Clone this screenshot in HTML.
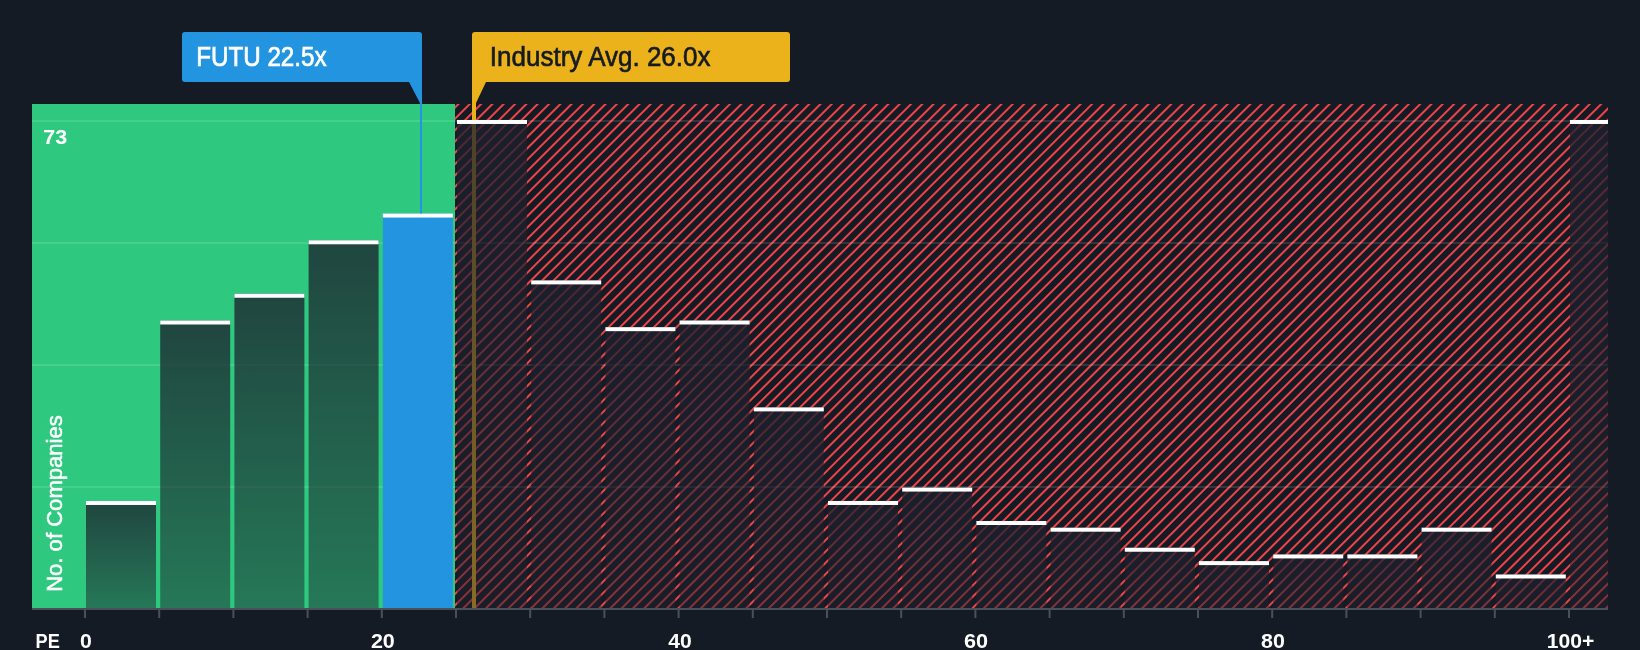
<!DOCTYPE html>
<html><head><meta charset="utf-8"><style>
html,body{margin:0;padding:0;background:#151b24;width:1640px;height:650px;overflow:hidden}
svg{display:block;will-change:transform}
text{font-family:"Liberation Sans",sans-serif}
</style></head><body>
<svg width="1640" height="650" viewBox="0 0 1640 650">
<defs>
<pattern id="hatch" patternUnits="userSpaceOnUse" width="8" height="8" patternTransform="rotate(45) translate(4.75,0)">
<rect x="0" y="0" width="8" height="8" fill="#151b24"/>
<rect x="0" y="0" width="2" height="8" fill="#ef4348"/>
</pattern>
<linearGradient id="barg" x1="0" y1="0" x2="0" y2="1">
<stop offset="0" stop-color="#1c202d" stop-opacity="0.78"/>
<stop offset="1" stop-color="#1c202d" stop-opacity="0.48"/>
</linearGradient>
</defs>
<rect x="0" y="0" width="1640" height="650" fill="#151b24"/>
<rect x="32" y="104" width="423" height="504" fill="#2ec97f"/>
<rect x="455" y="104" width="1153" height="504" fill="url(#hatch)"/>
<rect x="32" y="120" width="1576" height="2" fill="rgba(255,255,255,0.12)"/>
<rect x="32" y="242" width="1576" height="2" fill="rgba(255,255,255,0.12)"/>
<rect x="32" y="364" width="1576" height="2" fill="rgba(255,255,255,0.12)"/>
<rect x="32" y="486" width="1576" height="2" fill="rgba(255,255,255,0.12)"/>
<rect x="472" y="82" width="4" height="526" fill="#ebb21c"/>
<rect x="86.00" y="500.96" width="70.00" height="107.04" fill="url(#barg)"/>
<rect x="86.00" y="500.96" width="70.00" height="4" fill="#ffffff"/>
<rect x="160.20" y="320.49" width="70.00" height="287.51" fill="url(#barg)"/>
<rect x="160.20" y="320.49" width="70.00" height="4" fill="#ffffff"/>
<rect x="234.40" y="293.75" width="70.00" height="314.25" fill="url(#barg)"/>
<rect x="234.40" y="293.75" width="70.00" height="4" fill="#ffffff"/>
<rect x="308.60" y="240.28" width="70.00" height="367.72" fill="url(#barg)"/>
<rect x="308.60" y="240.28" width="70.00" height="4" fill="#ffffff"/>
<rect x="382.80" y="213.54" width="70.00" height="394.46" fill="#2394df"/>
<rect x="382.80" y="213.54" width="70.00" height="4" fill="#ffffff"/>
<rect x="457.00" y="119.97" width="70.00" height="488.03" fill="url(#barg)"/>
<rect x="457.00" y="119.97" width="70.00" height="4" fill="#ffffff"/>
<rect x="531.20" y="280.38" width="70.00" height="327.62" fill="url(#barg)"/>
<rect x="531.20" y="280.38" width="70.00" height="4" fill="#ffffff"/>
<rect x="605.40" y="327.17" width="70.00" height="280.83" fill="url(#barg)"/>
<rect x="605.40" y="327.17" width="70.00" height="4" fill="#ffffff"/>
<rect x="679.60" y="320.49" width="70.00" height="287.51" fill="url(#barg)"/>
<rect x="679.60" y="320.49" width="70.00" height="4" fill="#ffffff"/>
<rect x="753.80" y="407.38" width="70.00" height="200.62" fill="url(#barg)"/>
<rect x="753.80" y="407.38" width="70.00" height="4" fill="#ffffff"/>
<rect x="828.00" y="500.96" width="70.00" height="107.04" fill="url(#barg)"/>
<rect x="828.00" y="500.96" width="70.00" height="4" fill="#ffffff"/>
<rect x="902.20" y="487.59" width="70.00" height="120.41" fill="url(#barg)"/>
<rect x="902.20" y="487.59" width="70.00" height="4" fill="#ffffff"/>
<rect x="976.40" y="521.01" width="70.00" height="86.99" fill="url(#barg)"/>
<rect x="976.40" y="521.01" width="70.00" height="4" fill="#ffffff"/>
<rect x="1050.60" y="527.69" width="70.00" height="80.31" fill="url(#barg)"/>
<rect x="1050.60" y="527.69" width="70.00" height="4" fill="#ffffff"/>
<rect x="1124.80" y="547.74" width="70.00" height="60.26" fill="url(#barg)"/>
<rect x="1124.80" y="547.74" width="70.00" height="4" fill="#ffffff"/>
<rect x="1199.00" y="561.11" width="70.00" height="46.89" fill="url(#barg)"/>
<rect x="1199.00" y="561.11" width="70.00" height="4" fill="#ffffff"/>
<rect x="1273.20" y="554.43" width="70.00" height="53.57" fill="url(#barg)"/>
<rect x="1273.20" y="554.43" width="70.00" height="4" fill="#ffffff"/>
<rect x="1347.40" y="554.43" width="70.00" height="53.57" fill="url(#barg)"/>
<rect x="1347.40" y="554.43" width="70.00" height="4" fill="#ffffff"/>
<rect x="1421.60" y="527.69" width="70.00" height="80.31" fill="url(#barg)"/>
<rect x="1421.60" y="527.69" width="70.00" height="4" fill="#ffffff"/>
<rect x="1495.80" y="574.48" width="70.00" height="33.52" fill="url(#barg)"/>
<rect x="1495.80" y="574.48" width="70.00" height="4" fill="#ffffff"/>
<rect x="1570.00" y="119.97" width="38.00" height="488.03" fill="url(#barg)"/>
<rect x="1570.00" y="119.97" width="38.00" height="4" fill="#ffffff"/>
<rect x="420" y="82" width="2" height="131.54" fill="#2394df"/>
<rect x="32" y="608" width="1576" height="2" fill="#4a4f58"/>
<rect x="84.00" y="610" width="2" height="8" fill="#4a4f58"/>
<rect x="158.20" y="610" width="2" height="8" fill="#4a4f58"/>
<rect x="232.40" y="610" width="2" height="8" fill="#4a4f58"/>
<rect x="306.60" y="610" width="2" height="8" fill="#4a4f58"/>
<rect x="380.80" y="610" width="2" height="8" fill="#4a4f58"/>
<rect x="455.00" y="610" width="2" height="8" fill="#4a4f58"/>
<rect x="529.20" y="610" width="2" height="8" fill="#4a4f58"/>
<rect x="603.40" y="610" width="2" height="8" fill="#4a4f58"/>
<rect x="677.60" y="610" width="2" height="8" fill="#4a4f58"/>
<rect x="751.80" y="610" width="2" height="8" fill="#4a4f58"/>
<rect x="826.00" y="610" width="2" height="8" fill="#4a4f58"/>
<rect x="900.20" y="610" width="2" height="8" fill="#4a4f58"/>
<rect x="974.40" y="610" width="2" height="8" fill="#4a4f58"/>
<rect x="1048.60" y="610" width="2" height="8" fill="#4a4f58"/>
<rect x="1122.80" y="610" width="2" height="8" fill="#4a4f58"/>
<rect x="1197.00" y="610" width="2" height="8" fill="#4a4f58"/>
<rect x="1271.20" y="610" width="2" height="8" fill="#4a4f58"/>
<rect x="1345.40" y="610" width="2" height="8" fill="#4a4f58"/>
<rect x="1419.60" y="610" width="2" height="8" fill="#4a4f58"/>
<rect x="1493.80" y="610" width="2" height="8" fill="#4a4f58"/>
<rect x="1568.00" y="610" width="2" height="8" fill="#4a4f58"/>
<path d="M182 35 a3 3 0 0 1 3 -3 L419 32 a3 3 0 0 1 3 3 L422 104 L420.5 104 L409 82 L185 82 a3 3 0 0 1 -3 -3 Z" fill="#2394df"/>
<path d="M472 104 L472 35 a3 3 0 0 1 3 -3 L787 32 a3 3 0 0 1 3 3 L790 79 a3 3 0 0 1 -3 3 L486 82 L476 103 Z" fill="#ebb21c"/>
<text transform="translate(196.16,65.80) scale(0.8933,1)" font-size="27.1" font-weight="normal" fill="#fff" stroke="#fff" stroke-width="0.672">FUTU 22.5x</text>
<text transform="translate(489.86,65.80) scale(0.9599,1)" font-size="27.1" font-weight="normal" fill="#151b24" stroke="#151b24" stroke-width="0.625">Industry Avg. 26.0x</text>
<text transform="translate(43.34,143.90) scale(1.0769,1)" font-size="20.0" font-weight="bold" fill="#fff" stroke="#fff" stroke-width="0.000">73</text>
<!--ylab-->
<text transform="translate(61.90,590.10) rotate(-90) translate(-1.77,0) scale(1.0041,1)" font-size="22.0" font-weight="normal" fill="#fff" stroke="#fff" stroke-width="0.498">No. of Companies</text>
<text transform="translate(35.53,648.00) scale(0.8927,1)" font-size="20.4" font-weight="bold" fill="#fff" stroke="#fff" stroke-width="0.000">PE</text>
<text transform="translate(79.95,648.00) scale(1.0417,1)" font-size="20.4" font-weight="bold" fill="#fff" stroke="#fff" stroke-width="0.000">0</text>
<text transform="translate(370.90,648.00) scale(1.0558,1)" font-size="20.4" font-weight="bold" fill="#fff" stroke="#fff" stroke-width="0.000">20</text>
<text transform="translate(668.24,648.00) scale(1.0313,1)" font-size="20.4" font-weight="bold" fill="#fff" stroke="#fff" stroke-width="0.000">40</text>
<text transform="translate(963.98,648.00) scale(1.0613,1)" font-size="20.4" font-weight="bold" fill="#fff" stroke="#fff" stroke-width="0.000">60</text>
<text transform="translate(1261.11,648.00) scale(1.0511,1)" font-size="20.4" font-weight="bold" fill="#fff" stroke="#fff" stroke-width="0.000">80</text>
<text transform="translate(1546.83,648.00) scale(1.0351,1)" font-size="20.4" font-weight="bold" fill="#fff" stroke="#fff" stroke-width="0.000">100+</text>
</svg>
</body></html>
